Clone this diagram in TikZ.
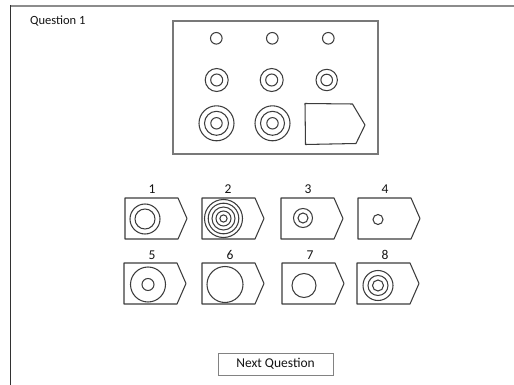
\documentclass[tikz,border=0pt]{standalone}
\usepackage{fontspec}
\setmainfont{Carlito}
\definecolor{inkC}{RGB}{60,60,60}
\definecolor{boxC}{RGB}{120,120,120}
\definecolor{frameTop}{RGB}{140,140,140}
\definecolor{frameLeft}{RGB}{50,50,50}
\definecolor{btnC}{RGB}{130,130,130}
\definecolor{txtC}{RGB}{20,20,20}
\tikzset{
  ink/.style={draw=inkC, line width=1.05pt},
  lbl/.style={font=\fontsize{13.5}{15}\selectfont, text=txtC, inner sep=0pt, anchor=south},
  answercard/.pic={
    \draw[ink, line join=round] (0,0) -- (53,0) -- (62,20.5) -- (53,41) -- (0,41) -- cycle;
  }
}
\begin{document}
\begin{tikzpicture}[x=1pt,y=-1pt]
\useasboundingbox (0,0) rectangle (514,385);
\fill[white] (0,0) rectangle (514,385);
% frame
\draw[frameTop, line width=2pt] (10,6.5) -- (514,6.5);
\draw[frameLeft, line width=1.5pt] (10.5,5.5) -- (10.5,385);
\node[anchor=base west, inner sep=0pt, font=\fontsize{12.5}{15}\selectfont, text=txtC] (title) at (30,24.5) {Question 1};
% top box
\draw[boxC, line width=1.8pt] (173,21) rectangle (378,154);
\foreach \cx in {216.3,272.3,328.3} \draw[ink] (\cx,38.3) circle[radius=5.8pt];
\foreach \cx in {216.7,271.7} {\draw[ink] (\cx,80) circle[radius=11.5pt]; \draw[ink] (\cx,80) circle[radius=6pt];}
\draw[ink] (326.7,80) circle[radius=10.7pt]; \draw[ink] (326.7,80) circle[radius=5.8pt];
\foreach \cx in {216.5,272.5} {\foreach \r in {17.5,12,5.7} \draw[ink] (\cx,123.3) circle[radius=\r pt];}
\draw[ink, line join=round] (305,103.5) -- (352.5,104) -- (365,125) -- (356,143.5) -- (305.5,144.5) -- cycle;
% answer cards
\pic at (125,198) {answercard};
\foreach \r in {15,10} \draw[ink] (145,219) circle[radius=\r pt];
\pic at (202,198) {answercard};
\foreach \r in {19,15.3,11.5,7.5,3.6} \draw[ink] (223.5,218.5) circle[radius=\r pt];
\pic at (281,198) {answercard};
\foreach \r in {9.5,5} \draw[ink] (303,218) circle[radius=\r pt];
\pic at (358,198) {answercard};
\draw[ink] (378,219.5) circle[radius=5pt];
\pic at (124,263) {answercard};
\foreach \r in {17.5,6} \draw[ink] (148,284.5) circle[radius=\r pt];
\pic at (202,263) {answercard};
\draw[ink] (225,284.5) circle[radius=18pt];
\pic at (282,263) {answercard};
\draw[ink] (304,285.5) circle[radius=12pt];
\pic at (357,263) {answercard};
\foreach \r in {15,10,5.5} \draw[ink] (378,285.5) circle[radius=\r pt];
% labels
\node[lbl] (l1) at (152,194) {1};
\node[lbl] (l2) at (228,194) {2};
\node[lbl] (l3) at (308,194) {3};
\node[lbl] (l4) at (385,194) {4};
\node[lbl] (l5) at (152,260) {5};
\node[lbl] (l6) at (230,260) {6};
\node[lbl] (l7) at (310,260) {7};
\node[lbl] (l8) at (385,260) {8};
% button
\node[draw=btnC, line width=1pt, minimum width=115pt, minimum height=22pt, inner sep=0pt, font=\fontsize{13.5}{15}\selectfont, text=txtC] (next) at (275.5,364) {Next Question};
\end{tikzpicture}
\end{document}
